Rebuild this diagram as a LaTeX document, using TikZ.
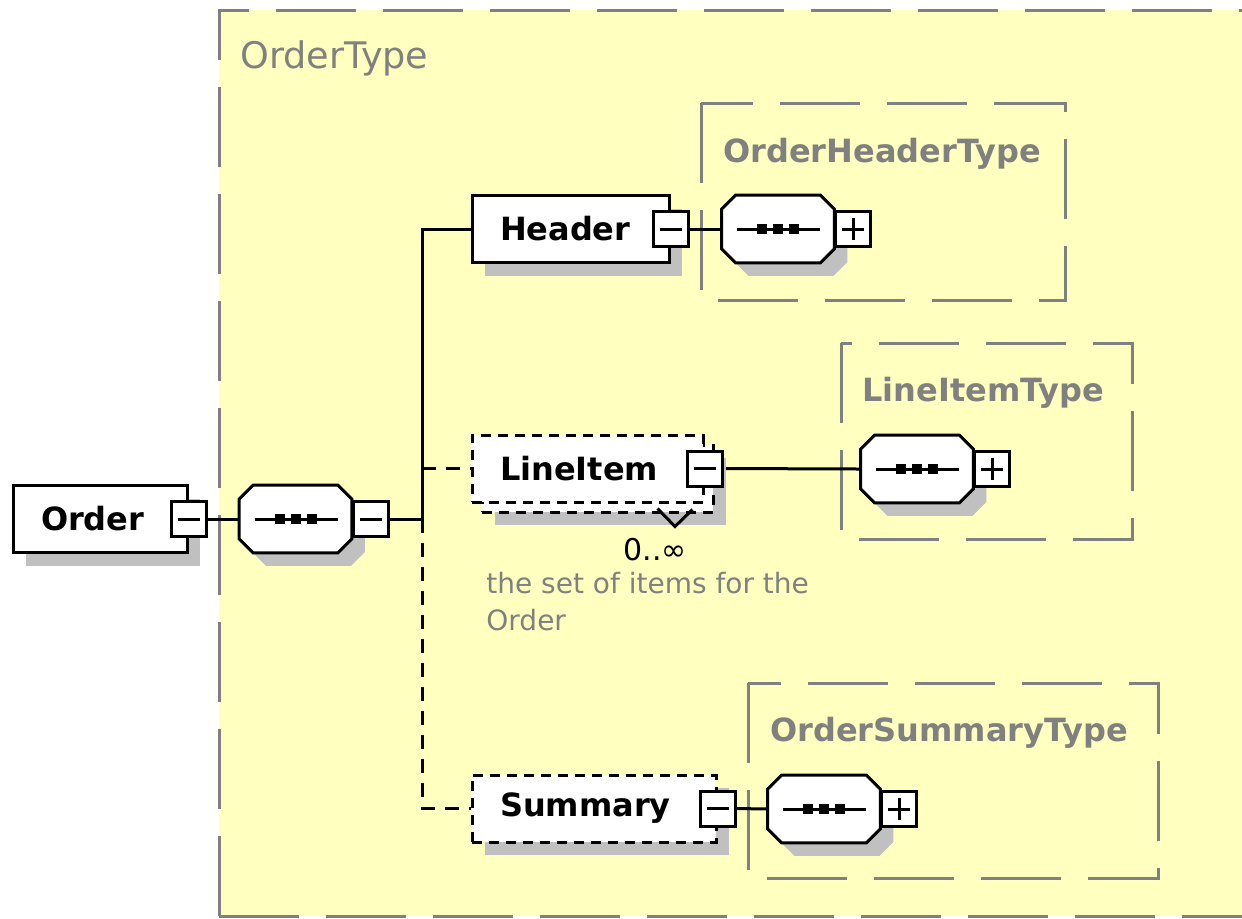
\documentclass[tikz,border=0pt]{standalone}
\usepackage{fontspec}
\setmainfont{DejaVu Sans}
\usetikzlibrary{shadows}
\definecolor{ybg}{RGB}{255,255,192}
\definecolor{gline}{RGB}{128,128,128}
\definecolor{shad}{RGB}{192,192,192}
\pgfdeclarelayer{bg}
\pgfdeclarelayer{mid}
\pgfsetlayers{bg,mid,main}
\tikzset{
  basebox/.style={rectangle, draw=black, line width=1.5pt, fill=white,
    minimum height=33.5pt, inner xsep=14pt, inner ysep=0pt, align=left,
    font=\fontsize{16}{19}\selectfont\bfseries},
  shadowed/.style={drop shadow={shadow xshift=6.5pt, shadow yshift=-6.5pt, fill=shad, opacity=1}},
  elbox/.style={basebox, shadowed},
  optdash/.style={dash pattern=on 5pt off 3.5pt},
  pmbox/.style={rectangle, draw=black, line width=1.5pt, fill=white, minimum size=17.5pt, inner sep=0pt},
  octa/.style={rectangle, minimum width=56pt, minimum height=33.5pt, inner sep=0pt},
  conn/.style={line width=1.5pt},
  dconn/.style={conn, dash pattern=on 7pt off 5pt},
  typebox/.style={draw=gline, line width=1.5pt, dash pattern=on 40pt off 13.5pt},
  typelabel/.style={text=gline, font=\fontsize{16}{19}\selectfont\bfseries, anchor=base west, inner sep=0pt},
}
\newcommand{\minusmark}[1]{\draw[line width=1.5pt] ([xshift=-5.5pt]#1.center) -- ([xshift=5.5pt]#1.center);}
\newcommand{\plusmark}[1]{\minusmark{#1}\draw[line width=1.5pt] ([yshift=-5.5pt]#1.center) -- ([yshift=5.5pt]#1.center);}
\newcommand{\octshape}[2]{([shift={(14+#2,#2)}]#1.north west) -- ([shift={(-14+#2,#2)}]#1.north east) -- ([shift={(#2,14+#2)}]#1.north east) -- ([shift={(#2,-14+#2)}]#1.south east) -- ([shift={(-14+#2,#2)}]#1.south east) -- ([shift={(14+#2,#2)}]#1.south west) -- ([shift={(#2,-14+#2)}]#1.south west) -- ([shift={(#2,14+#2)}]#1.north west) -- cycle}
\newcommand{\drawoct}[1]{%
  \fill[shad] \octshape{#1}{13};
  \filldraw[fill=white, draw=black, line width=1.5pt] \octshape{#1}{0};
  \draw[line width=1.5pt] ([shift={(-41,0)}]#1.center) -- ([shift={(42,0)}]#1.center);
  \foreach \d in {-16,0,16} \fill ([shift={(\d-5,-5)}]#1.center) rectangle ([shift={(\d+5,5)}]#1.center);
}
\begin{document}
\begin{tikzpicture}[x=0.5pt,y=-0.5pt]
\useasboundingbox (0,0) rectangle (1242,918);
\begin{pgfonlayer}{bg}
  \fill[ybg] (219,10) rectangle (1252,916);
  \draw[typebox] (219,916) -- (219,10) -- (1252,10);
  \draw[typebox] (219,916) -- (1252,916);
  \draw[typebox] (701,103) rectangle (1065,300);
  \draw[typebox] (841,343) rectangle (1132,539);
  \draw[typebox] (748,683) rectangle (1158,878);
\end{pgfonlayer}
\node[text=gline, font=\fontsize{18.3}{22}\selectfont, anchor=base west, inner sep=0pt] (ordertype) at (240,68) {OrderType};
\node[typelabel] (ohtype) at (723,162) {OrderHeaderType};
\node[typelabel] (litype) at (862,401) {LineItemType};
\node[typelabel] (ostype) at (770,741) {OrderSummaryType};

% Order and sequence
\node[elbox, text width=59pt] (order) at (100,519) {Order};
\node[pmbox] (orderm) at (order.east) {}; \minusmark{orderm}
\node[octa] (seq) at (295.5,519) {}; \drawoct{seq}
\node[pmbox, anchor=west] (seqm) at (seq.east) {}; \minusmark{seqm}
\coordinate (j) at (422,519);

% Header
\node[elbox, text width=70.5pt] (header) at (570.5,229) {Header};
\node[pmbox] (headerm) at (header.east) {}; \minusmark{headerm}
\node[octa] (hoct) at (778,229) {}; \drawoct{hoct}
\node[pmbox, anchor=west] (hplus) at (hoct.east) {}; \plusmark{hplus}

% LineItem
\node[basebox, optdash, shadowed, minimum width=115.5pt] (liback) at (597.5,478.5) {};
\node[basebox, optdash, text width=87.5pt] (lifront) at (587.5,468.5) {LineItem};
\node[pmbox] (lim) at (lifront.east) {}; \minusmark{lim}
\draw[line width=1.5pt] ([shift={(60,-5)}]liback.south) -- ([shift={(77.5,13)}]liback.south) -- ([shift={(95,-4)}]liback.south);
\node[octa] (lioct) at (917,469) {}; \drawoct{lioct}
\node[pmbox, anchor=west] (liplus) at (lioct.east) {}; \plusmark{liplus}
\node[font=\fontsize{15}{18}\selectfont, anchor=base, inner sep=0pt] (mult) at (655,560) {0..∞};
\node[text=gline, font=\fontsize{14}{18.5}\selectfont, anchor=north west, align=left, inner sep=0pt] (desc) at (486,572) {the set of items for the\\Order};

% Summary
\node[elbox, optdash, text width=94pt] (summary) at (594,808.5) {Summary};
\node[pmbox] (summ) at (summary.east) {}; \minusmark{summ}
\node[octa] (soct) at (824,809) {}; \drawoct{soct}
\node[pmbox, anchor=west] (splus) at (soct.east) {}; \plusmark{splus}

\begin{pgfonlayer}{mid}
  \draw[conn] (orderm.east) -- (seq.west);
  \draw[conn] (seqm.east) -- (j);
  \draw[conn] (j) |- (header.west);
  \draw[dconn] (j) |- (summary.west);
  \draw[dconn] (j |- lifront.west) -- (lifront.west);
  \draw[conn] (headerm.east) -- (hoct.west);
  \draw[conn] (lim.east) -- (lioct.west);
  \draw[conn] (summ.east) -- (soct.west);
\end{pgfonlayer}
\end{tikzpicture}
\end{document}
